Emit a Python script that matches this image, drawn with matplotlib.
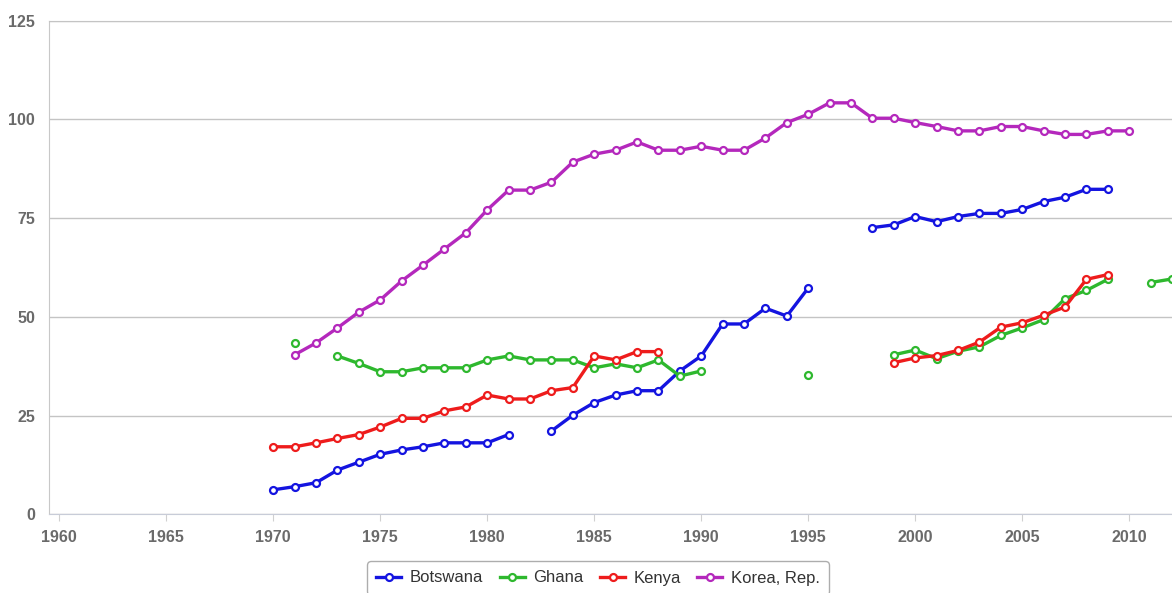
import numpy as np
import matplotlib.pyplot as plt

plt.rcParams['font.family'] = ['Liberation Sans', 'DejaVu Sans']

nan = np.nan
years = list(range(1970, 2013))

botswana = [6.2, 7.0, 8.0, 11.2, 13.2, 15.2, 16.3, 17.1, 18.1, 18.1,
            18.1, 20.2, nan, 21.1, 25.1, 28.3, 30.2, 31.3, 31.3, 36.3,
            40.1, 48.2, 48.2, 52.2, 50.2, 57.3, nan, nan, 72.6, 73.3,
            75.4, 74.1, 75.4, 76.2, 76.2, 77.2, 79.2, 80.3, 82.3, 82.3,
            nan, nan, nan]
ghana = [nan, 43.3, nan, 40.1, 38.2, 36.1, 36.1, 37.1, 37.1, 37.1,
         39.1, 40.1, 39.1, 39.1, 39.1, 37.1, 38.1, 37.1, 39.1, 35.0,
         36.3, nan, nan, nan, nan, 35.3, nan, nan, nan, 40.4,
         41.6, 39.4, 41.3, 42.4, 45.3, 47.2, 49.3, 54.6, 56.7, 59.5,
         nan, 58.7, 59.6]
kenya = [17.1, 17.1, 18.1, 19.2, 20.2, 22.1, 24.3, 24.3, 26.2, 27.2,
         30.2, 29.2, 29.2, 31.3, 32.1, 40.1, 39.1, 41.2, 41.2, nan,
         nan, nan, nan, nan, nan, nan, nan, nan, nan, 38.4,
         39.6, 40.2, 41.5, 43.6, 47.4, 48.5, 50.4, 52.5, 59.5, 60.7,
         nan, nan, nan]
korea = [nan, 40.4, 43.4, 47.2, 51.2, 54.3, 59.1, 63.1, 67.2, 71.3,
         77.1, 82.1, 82.1, 84.1, 89.2, 91.2, 92.2, 94.3, 92.2, 92.2,
         93.2, 92.2, 92.2, 95.3, 99.2, 101.3, 104.2, 104.2, 100.3, 100.3,
         99.2, 98.2, 97.1, 97.1, 98.2, 98.2, 97.1, 96.2, 96.2, 97.1,
         97.1, nan, nan]

names = ['Botswana', 'Ghana', 'Kenya', 'Korea, Rep.']
colors = ['#1414e0', '#2eb82e', '#ee1c1c', '#b428bc']

fig = plt.figure(figsize=(11.72, 5.93), dpi=100)
ax = fig.add_axes([49/1172, 1-514.3/593, 1-49/1172, (514.3-20.7)/593])

for vals, name, c in zip([botswana, ghana, kenya, korea], names, colors):
    ax.plot(years, vals, '-o', color=c, lw=2.4, ms=5, mew=1.6,
            mfc='white', mec=c, label=name, clip_on=True)

ax.set_xlim(1959.52, 2012.0)
ax.set_ylim(0, 125)
ax.set_xticks(range(1960, 2011, 5))
ax.set_yticks([0, 25, 50, 75, 100, 125])
ax.yaxis.grid(True, color='#c4c4c4', lw=1)
ax.set_axisbelow(True)

for s in ['right']:
    ax.spines[s].set_visible(False)
ax.spines['top'].set_color('#c4c4c4')
ax.spines['left'].set_color('#c8c8c8')
ax.spines['bottom'].set_color('#c8ccd8')

ax.tick_params(axis='x', length=5, color='#d0d0d0', pad=6,
               labelsize=11.5, labelcolor='#6a6a6a')
ax.tick_params(axis='y', length=0, pad=10, labelsize=11.5, labelcolor='#6a6a6a')
for lbl in ax.get_xticklabels() + ax.get_yticklabels():
    lbl.set_fontweight('bold')

leg = fig.legend(loc='upper center', bbox_to_anchor=(598/1172, 1-553/593),
                 ncol=4, fontsize=12, frameon=True, fancybox=True,
                 handlelength=1.5, handletextpad=0.5, columnspacing=1.0,
                 borderpad=0.55)
leg.get_frame().set_edgecolor('#999999')
leg.get_frame().set_linewidth(1.0)
for t in leg.get_texts():
    t.set_color('#333333')

fig.savefig('out.png', dpi=100)
